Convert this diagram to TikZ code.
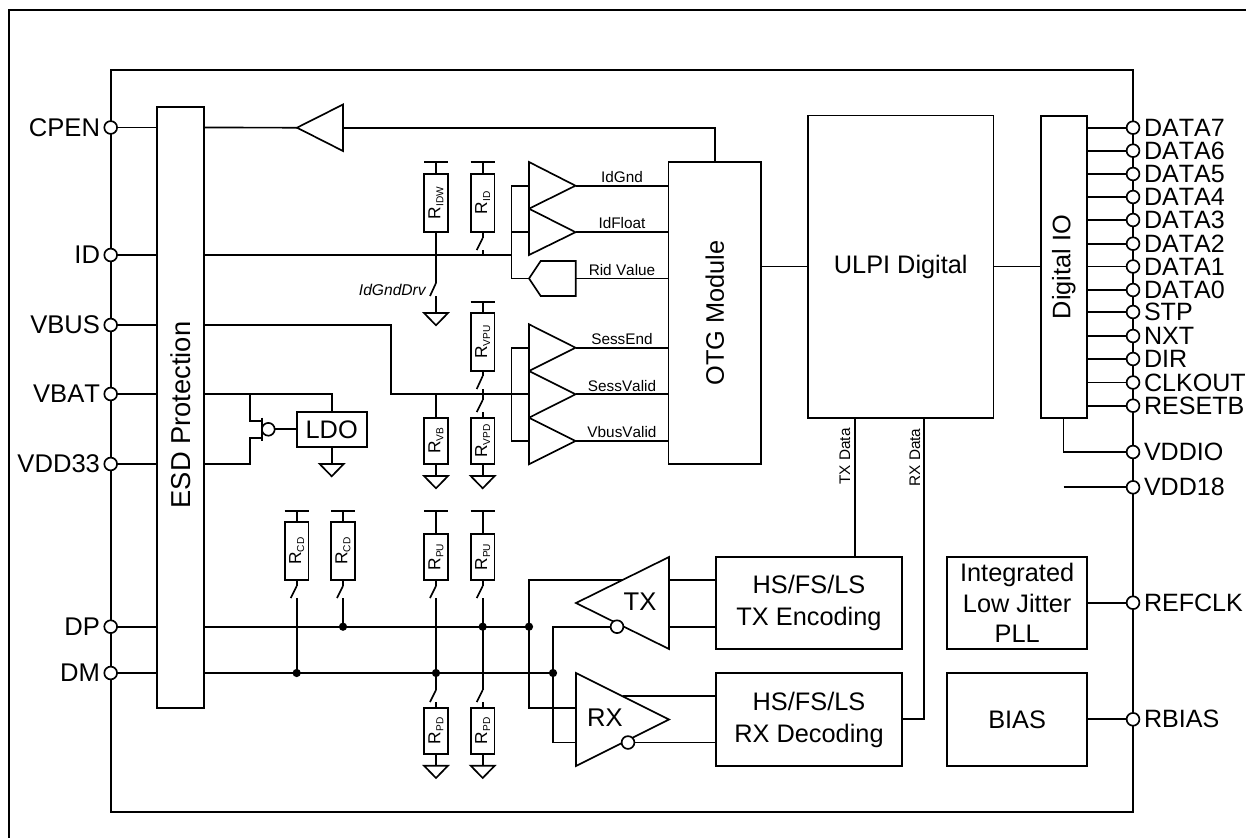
\documentclass[tikz,border=0pt]{standalone}
\usepackage{fontspec}
\setmainfont[Kerning=Off]{Liberation Sans}
\usetikzlibrary{calc}
\newcommand\fsz[1]{\fontsize{#1}{#1}\selectfont}
\tikzset{
  wire/.style={line width=1.25pt,line join=miter},
  frameline/.style={line width=1.5pt},
  box/.style={draw,line width=1.25pt,inner sep=0pt,outer sep=0pt,align=center,font=\fsz{19pt}},
  pinnode/.style={circle,draw,fill=white,line width=1.25pt,minimum size=9.6pt,inner sep=0pt,outer sep=0pt},
  dotnode/.style={circle,fill=black,minimum size=6.2pt,inner sep=0pt,outer sep=0pt},
  pinlab/.style={inner sep=0pt,outer sep=0pt,font=\fsz{19.2pt}},
  rpinlab/.style={inner sep=0pt,outer sep=0pt,font=\fsz{18.8pt}},
  siglab/.style={inner sep=0pt,outer sep=0pt,font=\fsz{11.5pt}},
}
\newcommand\bx[6]{%
  \pgfmathsetmacro\bxcx{(#2+#4)/2}%
  \pgfmathsetmacro\bxcy{(#3+#5)/2}%
  \node[box,minimum width={(#4-#2)*0.75pt},minimum height={(#5-#3)*0.75pt}] (#1) at (\bxcx,\bxcy) {#6};%
}
\newcommand\Rlab[1]{\rotatebox{90}{\fsz{13pt}R\raisebox{-2.2pt}{\fsz{7.6pt}#1}}}
\newcommand\Res[5]{%
  \pgfmathsetmacro\rxa{#2-11.8}\pgfmathsetmacro\rxb{#2+11.8}%
  \bx{#1}{\rxa}{#3}{\rxb}{#4}{\Rlab{#5}}%
}
\newcommand\Rail[3]{%
  \coordinate (#1) at (#2,#3);%
  \draw[wire] ($(#1)+(-12,0)$) -- ($(#1)+(12,0)$);%
}
\newcommand\Gnd[3]{%
  \coordinate (#1) at (#2,#3);%
  \draw[wire] (#1) -- ($(#1)+(-12,0)$) -- ($(#1)+(0,12.3)$) -- ($(#1)+(12,0)$) -- cycle;%
}
\newcommand\Sw[4]{%
  \coordinate (#1a) at (#2,#3);%
  \coordinate (#1b) at (#2,#4);%
  \draw[wire] (#1a) -- ($(#1b)+(-6,0)$);%
}
\newcommand\Tri[6]{% name, x1, ytop, ybot, xtip, ytip
  \coordinate (#1t) at (#5,#6);%
  \draw[wire] (#2,#3) -- (#1t) -- (#2,#4) -- cycle;%
}
\begin{document}
\begin{tikzpicture}[x=0.75pt,y=-0.75pt]
\useasboundingbox (0,0) rectangle (1246,838);
% outer frame and chip outline
\draw[frameline] (9.3,838) -- (9.3,10) -- (1246,10);
\draw[wire] (110.7,70) rectangle (1133,812);
% pins
\foreach \n/\y in {CPEN/127.5,ID/255,VBUS/325,VBAT/394,VDD33/464,DP/626.7,DM/673}{
  \node[pinnode] (\n) at (110.7,\y) {};
  \node[pinlab,anchor=east] (lab\n) at (100,\y) {\n};
}
\foreach \n/\y in {DATA7/127.7,DATA6/150.7,DATA5/174,DATA4/197,DATA3/220,DATA2/243.7,DATA1/266.5,DATA0/290,STP/312,NXT/336,DIR/359,CLKOUT/382.5,RESETB/405.7,VDDIO/452,VDD18/487.3,REFCLK/602.7,RBIAS/719.3}{
  \node[pinnode] (\n) at (1133,\y) {};
  \node[rpinlab,anchor=west] (lab\n) at (1144,\y) {\n};
}
% blocks
\bx{esd}{157.3}{107.3}{204}{707.7}{}
\node[pinlab,rotate=90,font=\fsz{20.5pt}] (esdtext) at (180.5,415) {ESD Protection};
\bx{otg}{668.5}{162}{761}{464.3}{\rotatebox{90}{OTG Module}}
\bx{ulpi}{808}{115.5}{993.5}{418}{ULPI Digital}
\bx{dio}{1040.7}{116}{1087}{418}{\rotatebox{90}{Digital IO}}
\bx{txe}{716}{557}{902}{649}{HS/FS/LS\\[5pt]TX Encoding}
\bx{rxd}{716}{673}{902}{766}{HS/FS/LS\\[5pt]RX Decoding}
\bx{pll}{947.3}{557}{1087}{649}{Integrated\\[4pt]Low Jitter\\[4pt]PLL}
\bx{bias}{947.3}{673}{1087}{766}{BIAS}
\bx{ldo}{296.7}{411.7}{366.7}{447}{LDO}
% CPEN buffer
\Tri{cpb}{343}{104.5}{151}{297}{127.7}
\coordinate (cpin) at (343,127.7);
\coordinate (cpc) at (715,127.7);
\draw[wire] (CPEN.east) -- (esd.west |- CPEN);
\draw[wire] (esd.east |- CPEN) -- (cpbt);
\draw[wire] (cpin) -- (cpc) -- (cpc |- otg.north);
% block to block
\coordinate (busm) at (761,266.5);
\draw[wire] (otg.east |- busm) -- (ulpi.west |- busm);
\draw[wire] (ulpi.east |- busm) -- (dio.west |- busm);
% digital pins
\foreach \n in {DATA7,DATA6,DATA5,DATA4,DATA3,DATA2,DATA1,DATA0,STP,NXT,DIR,CLKOUT,RESETB}{
  \draw[wire] (dio.east |- \n) -- (\n.west);
}
\coordinate (iox) at (1063.5,418);
\draw[wire] (iox) -- (iox |- VDDIO) -- (VDDIO.west);
\draw[wire] (iox |- VDD18) -- (VDD18.west);
\draw[wire] (pll.east |- REFCLK) -- (REFCLK.west);
\draw[wire] (bias.east |- RBIAS) -- (RBIAS.west);
% TX / RX data
\coordinate (txd) at (855,418);
\coordinate (rxdt) at (924,418);
\draw[wire] (txd) -- (txd |- txe.north);
\draw[wire] (rxdt) -- (rxdt |- RBIAS) -- (rxd.east |- RBIAS);
\node[siglab,rotate=90] (txlab) at (845,456.5) {TX Data};
\node[siglab,rotate=90] (rxlab) at (915,457.5) {RX Data};
% ID section
\draw[wire] (ID.east) -- (esd.west |- ID);
\coordinate (idb) at (511.5,255);
\draw[wire] (esd.east |- ID) -- (idb);
\Res{ridw}{436}{174}{232}{IDW}
\Res{rid}{482.7}{174}{232}{ID}
\Rail{ridwb}{436}{162}
\Rail{ridb}{482.7}{162}
\draw[wire] (ridwb) -- (ridw.north);
\draw[wire] (ridb) -- (rid.north);
\Sw{swid}{482.7}{238}{250}
\draw[wire] (rid.south) -- (swida);
\draw[wire] (swidb) -- (swidb |- idb);
\Sw{swidw}{436}{283}{296}
\Gnd{gidw}{436}{313}
\draw[wire] (ridw.south) -- (swidwa);
\draw[wire] (swidwb) -- (gidw);
\node[inner sep=0pt,outer sep=0pt,anchor=east,font=\fsz{11.7pt}\itshape] (idgd) at (425.7,290) {IdGndDrv};
% ID comparators
\Tri{c1}{529}{162}{208.7}{575.5}{185.7}
\Tri{c2}{529}{208.7}{255}{575.5}{232.2}
\coordinate (adct) at (529,278.5);
\draw[wire] (adct) -- (540.7,261) -- (575.7,261) -- (575.7,296) -- (540.7,296) -- cycle;
\coordinate (adcr) at (575.7,278.5);
\draw[wire] (idb) -- (idb |- c1t) -- (529,185.7);
\draw[wire] (idb) -- (idb |- adct) -- (adct);
\draw[wire] (idb |- c2t) -- (529,232.2);
\draw[wire] (c1t) -- (otg.west |- c1t);
\draw[wire] (c2t) -- (otg.west |- c2t);
\draw[wire] (adcr) -- (otg.west |- adcr);
\node[siglab] (l1) at (622,176.7) {IdGnd};
\node[siglab] (l2) at (622,222.7) {IdFloat};
\node[siglab] (l3) at (622,270) {Rid Value};
% VBUS section
\draw[wire] (VBUS.east) -- (esd.west |- VBUS);
\coordinate (vb1) at (391,325);
\coordinate (vb2) at (391,394.3);
\coordinate (vb3) at (529,394.3);
\draw[wire] (esd.east |- VBUS) -- (vb1) -- (vb2) -- (vb3);
\Res{rvpu}{482.7}{313.3}{371}{VPU}
\Rail{rvpub}{482.7}{301.7}
\draw[wire] (rvpub) -- (rvpu.north);
\Sw{swvpu}{482.7}{376}{389}
\draw[wire] (rvpu.south) -- (swvpua);
\draw[wire] (swvpub) -- (swvpub |- vb3) -- (482.7,400);
\Sw{swvpd}{482.7}{400}{412}
\Res{rvpd}{482.7}{417.7}{464}{VPD}
\draw[wire] (swvpdb) -- (rvpd.north);
\Gnd{gvpd}{482.7}{476}
\draw[wire] (rvpd.south) -- (gvpd);
\Res{rvb}{436}{417.7}{464}{VB}
\draw[wire] (436,394.3) -- (rvb.north);
\Gnd{gvb}{436}{476}
\draw[wire] (rvb.south) -- (gvb);
\Tri{c3}{529}{324.3}{371}{575.5}{347.7}
\Tri{c4}{529}{371}{417.7}{575.5}{394.3}
\Tri{c5}{529}{417.7}{464.3}{575.5}{441}
\coordinate (vbk) at (511.5,394.3);
\draw[wire] (529,347.7) -- (vbk |- c3t) -- (vbk |- c5t) -- (529,441);
\foreach \c in {c3t,c4t,c5t}{ \draw[wire] (\c) -- (otg.west |- \c); }
\node[siglab] (l4) at (622,338.7) {SessEnd};
\node[siglab] (l5) at (622,385.7) {SessValid};
\node[siglab] (l6) at (622,431.7) {VbusValid};
% VBAT / LDO
\draw[wire] (VBAT.east) -- (esd.west |- VBAT);
\draw[wire] (VDD33.east) -- (esd.west |- VDD33);
\draw[wire] (esd.east |- VBAT) -- (ldo.north |- VBAT) -- (ldo.north);
\Gnd{gldo}{331.7}{464}
\draw[wire] (ldo.south) -- (gldo);
\node[pinnode] (pbub) at (268.3,429.3) {};
\coordinate (fx) at (250.3,394);
\draw[wire] (fx) -- (250.3,420.7) -- (261.7,420.7);
\draw[wire] (261.7,417.7) -- (261.7,441);
\draw[wire] (261.7,437.7) -- (250.3,437.7) -- (fx |- VDD33) -- (esd.east |- VDD33);
\draw[wire] (pbub.east) -- (ldo.west |- pbub);
% lower resistors
\foreach \nm/\x/\t/\s in {rcda/296.7/522/CD,rcdb/343/522/CD,rpua/436/534/PU,rpub/482.7/534/PU}{
  \Res{\nm}{\x}{\t}{580}{\s}
  \Rail{\nm rail}{\x}{511}
  \draw[wire] (\nm rail) -- (\nm.north);
  \Sw{\nm sw}{\x}{586}{598}
  \draw[wire] (\nm.south) -- (\nm swa);
}
\foreach \nm/\x in {rpda/436,rpdb/482.7}{
  \Res{\nm}{\x}{707.7}{754}{PD}
  \Sw{\nm sw}{\x}{690}{702}
  \draw[wire] (\nm swb) -- (\nm.north);
  \Gnd{\nm g}{\x}{765.7}
  \draw[wire] (\nm.south) -- (\nm g);
}
% DP/DM buses
\draw[wire] (DP.east) -- (esd.west |- DP);
\draw[wire] (DM.east) -- (esd.west |- DM);
\coordinate (jdp) at (529,626.7);
\coordinate (jdm) at (553,673);
\draw[wire] (esd.east |- DP) -- (jdp);
\draw[wire] (esd.east |- DM) -- (jdm);
\draw[wire] (rcdaswb) -- (rcdaswb |- jdm);
\draw[wire] (rcdbswb) -- (rcdbswb |- jdp);
\draw[wire] (rpuaswb) -- (rpdaswa);
\draw[wire] (rpubswb) -- (rpdbswa);
\node[dotnode] (d1) at (rcdaswb |- jdm) {};
\node[dotnode] (d2) at (rcdbswb |- jdp) {};
\node[dotnode] (d3) at (rpuaswb |- jdm) {};
\node[dotnode] (d4) at (rpubswb |- jdp) {};
\node[dotnode] (d5) at (jdp) {};
\node[dotnode] (d6) at (jdm) {};
% TX / RX buffers
\Tri{tx}{669}{557}{649}{576}{603}
\Tri{rx}{576}{673}{766}{669}{719.5}
\node[pinnode] (txbub) at (617,626.7) {};
\node[pinnode] (rxbub) at (628,742.5) {};
\node[pinlab] (txt) at (640,602) {TX};
\node[pinlab] (rxt) at (605,718) {RX};
\draw[wire] (669,580) -- (txe.west |- 669,580);
\draw[wire] (669,626.7) -- (txe.west |- 669,626.7);
\draw[wire] (623,696) -- (rxd.west |- 623,696);
\draw[wire] (rxbub.east) -- (rxd.west |- rxbub);
\draw[wire] (622.5,580) -- (529,580) -- (529,708) -- (576,708);
\draw[wire] (txbub.west) -- (553,626.7) -- (553,742.5) -- (576,742.5);
\end{tikzpicture}
\end{document}
